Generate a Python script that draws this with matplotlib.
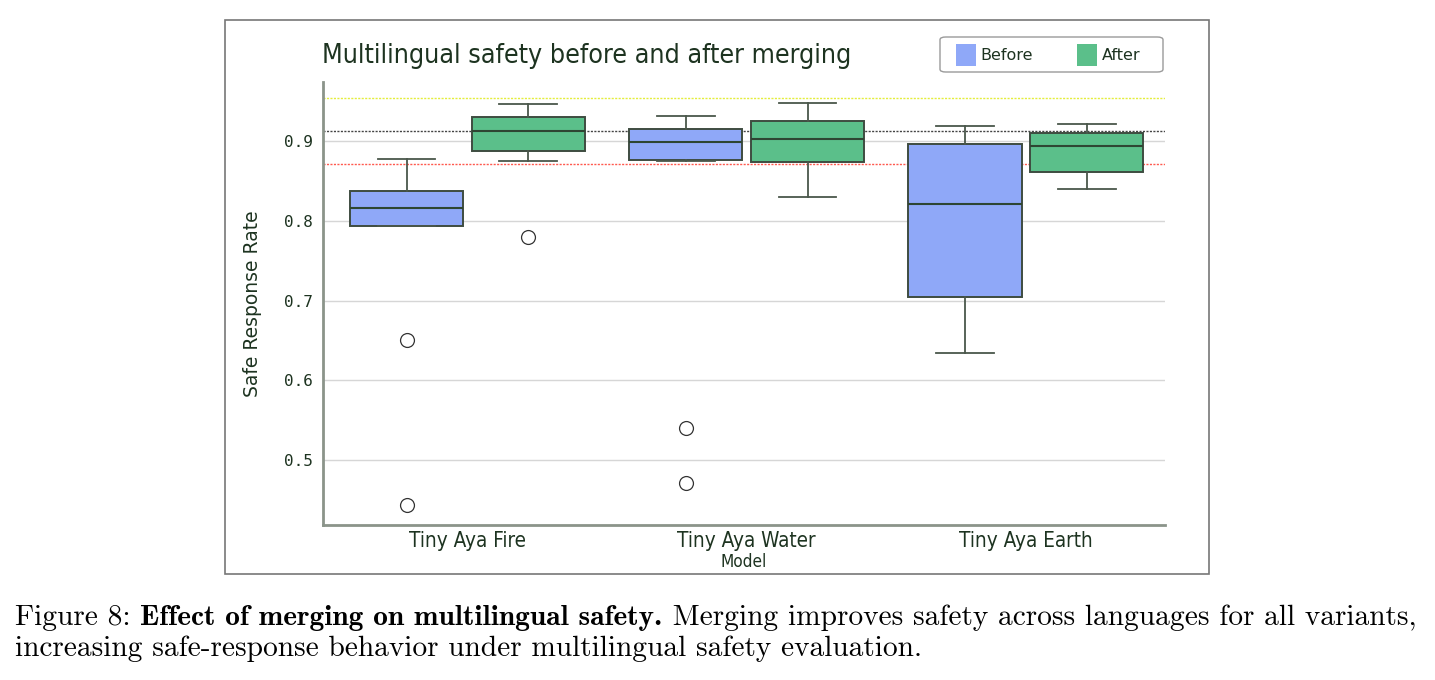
import matplotlib
matplotlib.use("Agg")
import matplotlib.pyplot as plt
from matplotlib.patches import Patch, Rectangle, FancyBboxPatch

# --- data ---
models = ["Tiny Aya Fire", "Tiny Aya Water", "Tiny Aya Earth"]
groups = ["Before", "After"]

before_whislo = [0.794, 0.875, 0.634]
before_q1 = [0.794, 0.877, 0.705]
before_med = [0.816, 0.899, 0.821]
before_q3 = [0.838, 0.915, 0.896]
before_whishi = [0.8775, 0.932, 0.919]
before_fliers = [[0.651, 0.444], [0.540, 0.472], []]

after_whislo = [0.875, 0.830, 0.840]
after_q1 = [0.8875, 0.874, 0.861]
after_med = [0.9125, 0.903, 0.894]
after_q3 = [0.931, 0.926, 0.9105]
after_whishi = [0.947, 0.9475, 0.922]
after_fliers = [[0.780], [], []]

ref_lines = [0.954, 0.9125, 0.871]
ref_colors = ["#e4ee3c", "#444444", "#ff5a4f"]
yticks = [0.5, 0.6, 0.7, 0.8, 0.9]

caption_bold = "Effect of merging on multilingual safety."
caption_rest1 = " Merging improves safety across languages for all variants,"
caption_line2 = "increasing safe-response behavior under multilingual safety evaluation."

TEXT = "#1d3320"
EDGE = "#3e4c40"
COLORS = {"Before": "#8fa8f8", "After": "#5bbf8a"}
SANS = "DejaVu Sans"
W, H = 1435, 680


def _stats(whislo, q1, med, q3, whishi, fliers):
    return [
        {"whislo": a, "q1": b, "med": c, "q3": d, "whishi": e, "fliers": f}
        for a, b, c, d, e, f in zip(whislo, q1, med, q3, whishi, fliers)
    ]


fig = plt.figure(figsize=(W / 100, H / 100), dpi=100)
ax = fig.add_axes([323 / W, 1 - 525 / H, 842 / W, 443 / H])

stats_by_group = {
    "Before": _stats(before_whislo, before_q1, before_med, before_q3, before_whishi, before_fliers),
    "After": _stats(after_whislo, after_q1, after_med, after_q3, after_whishi, after_fliers),
}
offsets = {"Before": -0.218, "After": 0.218}

for grp in groups:
    positions = [i + offsets[grp] for i in range(len(models))]
    ax.bxp(
        stats_by_group[grp],
        positions=positions,
        widths=0.405,
        capwidths=0.207,
        patch_artist=True,
        boxprops=dict(facecolor=COLORS[grp], edgecolor=EDGE, linewidth=1.4),
        medianprops=dict(color="#2e4633", linewidth=1.5),
        whiskerprops=dict(color="#4a574b", linewidth=1.3),
        capprops=dict(color="#4a574b", linewidth=1.3),
        flierprops=dict(marker="o", markersize=10, markerfacecolor="none",
                        markeredgecolor="#333333", markeredgewidth=0.9),
        zorder=3,
    )

for yv, c in zip(ref_lines, ref_colors):
    ax.axhline(yv, color=c, linestyle=(0, (1.5, 1)), linewidth=1.0, zorder=2)

ax.set_xlim(-0.517, 2.498)
ax.set_ylim(0.4188, 0.9743)
ax.set_yticks(yticks)
ax.set_yticklabels([f"{v:.1f}" for v in yticks], family="DejaVu Sans Mono",
                   fontsize=11.5, color=TEXT)
ax.set_xticks(range(len(models)))
ax.set_xticklabels(models, family=SANS, fontstretch="condensed", fontsize=14.9, color=TEXT)
ax.tick_params(axis="y", length=0, pad=7)
ax.tick_params(axis="x", length=0, pad=4)
ax.grid(axis="y", color="#d6d6d6", linewidth=1.0, zorder=0)
ax.set_axisbelow(True)

for side in ("top", "right"):
    ax.spines[side].set_visible(False)
for side in ("left", "bottom"):
    ax.spines[side].set_color("#8b948a")
    ax.spines[side].set_linewidth(2)

ax.set_ylabel("Safe Response Rate", fontsize=13.5, color=TEXT)
ax.yaxis.set_label_coords((262 - 323) / 842, 0.5)
ax.set_xlabel("Model", family=SANS, fontstretch="condensed", fontsize=12.3,
              color=TEXT, labelpad=2)

fig.text(322 / W, 1 - 56 / H, "Multilingual safety before and after merging",
         family=SANS, fontstretch="condensed", fontsize=19.3, color=TEXT,
         ha="left", va="center")

# legend: entries without frame, frame drawn as a rounded box
handles = [Patch(facecolor=COLORS[g], edgecolor="none", label=g) for g in groups]
leg = fig.legend(handles=handles, loc="center left",
                 bbox_to_anchor=(956 / W, 1 - 55 / H), ncol=2,
                 frameon=False, fontsize=11.5, handlelength=1.25, handleheight=1.75,
                 handletextpad=0.3, columnspacing=2.75, borderpad=0,
                 borderaxespad=0)
for t in leg.get_texts():
    t.set_color(TEXT)
fig.patches.append(FancyBboxPatch((940 / W, 1 - 72 / H), 223 / W, 35 / H,
                                  boxstyle="round,pad=0,rounding_size=0.004",
                                  transform=fig.transFigure, facecolor="white",
                                  edgecolor="#9a9a9a", linewidth=1.0, zorder=0))

# frame around the chart
fig.patches.append(Rectangle((225 / W, 1 - 574 / H), 984 / W, 554 / H,
                             transform=fig.transFigure, fill=False,
                             edgecolor="#777777", linewidth=1.2))

# caption
fig.canvas.draw()
renderer = fig.canvas.get_renderer()
cap_size = 21.2
y1 = 1 - 625 / H
y2 = 1 - 656 / H
t1 = fig.text(15 / W, y1, "Figure 8: ", family="cmr10",
              fontsize=cap_size, color="black", ha="left", va="baseline")
x = t1.get_window_extent(renderer).x1 / fig.bbox.width
t2 = fig.text(x, y1, caption_bold, family="cmb10",
              fontsize=cap_size, color="black", ha="left", va="baseline")
x = t2.get_window_extent(renderer).x1 / fig.bbox.width
fig.text(x, y1, caption_rest1, family="cmr10",
         fontsize=cap_size, color="black", ha="left", va="baseline")
fig.text(15 / W, y2, caption_line2, family="cmr10",
         fontsize=cap_size, color="black", ha="left", va="baseline")

fig.savefig("out.png", dpi=100)
